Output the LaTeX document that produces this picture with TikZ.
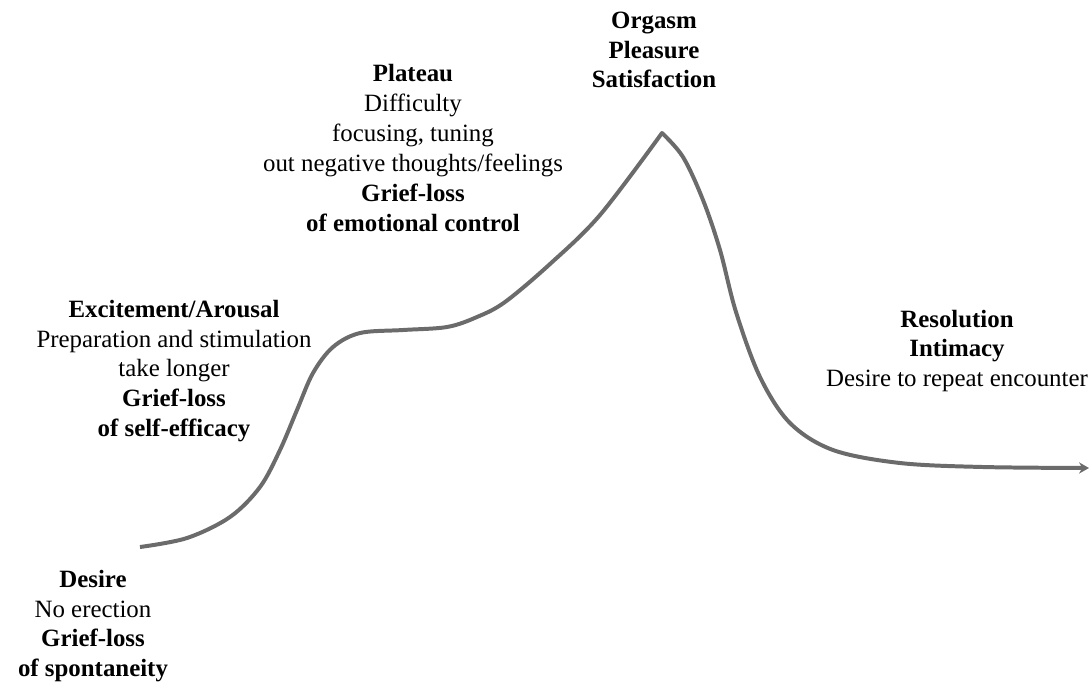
\documentclass[tikz,border=0pt]{standalone}
\usepackage{fontspec}
\setmainfont{Liberation Serif}
\usetikzlibrary{arrows.meta}

\begin{document}
\begin{tikzpicture}[x=0.01413cm, y=-0.01413cm,
  lbl/.style={align=center, inner sep=0pt, font=\fontsize{10}{12}\selectfont},
  curve/.style={line width=1.6pt, draw=black!58, line join=round, -{Stealth[length=4pt,width=4.5pt]}}]
\useasboundingbox (0,0) rectangle (1091,684);
% phase labels
\node[lbl] (desire) at (93,626) {\textbf{Desire}\\ No erection\\ \textbf{Grief-loss}\\ \textbf{of spontaneity}};
\node[lbl] (excite) at (174,371) {\textbf{Excitement/Arousal}\\ Preparation and stimulation\\ take longer\\ \textbf{Grief-loss}\\ \textbf{of self-efficacy}};
\node[lbl] (plateau) at (413,148) {\textbf{Plateau}\\ Difficulty\\ focusing, tuning\\ out negative thoughts/feelings\\ \textbf{Grief-loss}\\ \textbf{of emotional control}};
\node[lbl] (orgasm) at (654,50) {\textbf{Orgasm}\\ \textbf{Pleasure}\\ \textbf{Satisfaction}};
\node[lbl] (resol) at (957,351) {\textbf{Resolution}\\ \textbf{Intimacy}\\ Desire to repeat encounter};
% response curve: rise to the peak, then the fall
\draw[curve] plot[smooth, tension=0.55] coordinates {
  (140,547) (187,538) (230,517) (260,487) (280,450) (297,410) (313,373)
  (333,347) (360,333) (403,330) (447,327) (477,317) (505,302) (550,264)
  (600,215) (662,133)}
  -- plot[smooth, tension=0.55] coordinates {
  (662,133) (683,157) (703,200) (720,250) (736,312)
  (760,377) (790,423) (833,450) (900,463) (983,467) (1089,468)};
\end{tikzpicture}
\end{document}
